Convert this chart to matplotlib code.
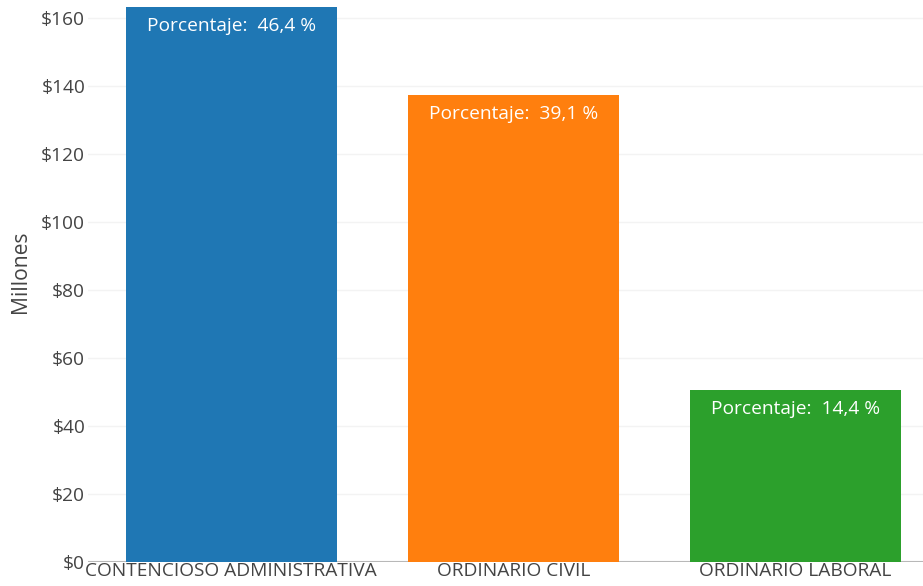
import matplotlib.pyplot as plt
from matplotlib.ticker import FuncFormatter

# Data (millones)
categorias = ["CONTENCIOSO ADMINISTRATIVA", "ORDINARIO CIVIL", "ORDINARIO LABORAL"]
valores = [163.2, 137.5, 50.7]
colores = ["#1f77b4", "#ff7f0e", "#2ca02c"]
y_ticks = [0, 20, 40, 60, 80, 100, 120, 140, 160]

plt.rcParams['font.family'] = ['Open Sans', 'DejaVu Sans']

fig = plt.figure(figsize=(9.23, 5.86), dpi=100)
ax = fig.add_axes([88 / 923, 24 / 586, 1 - 88 / 923, (562 - 7) / 586])

x = list(range(len(categorias)))
bars = ax.bar(x, valores, width=0.75, color=colores, zorder=2)

total = sum(valores)
for xi, v in zip(x, valores):
    pct = f"{v / total * 100:.1f}".replace(".", ",")
    ax.annotate(f"Porcentaje:  {pct} %", xy=(xi, v), xytext=(0, -19),
                textcoords="offset pixels", ha="center", va="center",
                color="white", fontsize=13.8, zorder=3)

ax.set_xlim(-0.508, 2.452)
ax.set_ylim(0, 163.3)
ax.set_yticks(y_ticks)
ax.yaxis.set_major_formatter(FuncFormatter(lambda v, p: f"${v:.0f}"))
ax.set_xticks(x)
ax.set_xticklabels(categorias)
ax.tick_params(axis="both", length=0, labelsize=13.8, labelcolor="#444444")
ax.tick_params(axis="y", pad=2)
ax.tick_params(axis="x", pad=0)

ax.grid(axis="y", color="#f3f3f3", linewidth=1, zorder=0)
ax.axhline(0, color="#aaaaaa", linewidth=1.5, zorder=1)
for s in ax.spines.values():
    s.set_visible(False)

ax.set_ylabel("Millones", fontsize=15.2, color="#444444")
ax.yaxis.set_label_coords(-0.068, 0.523)

fig.savefig("out.png", dpi=100)
